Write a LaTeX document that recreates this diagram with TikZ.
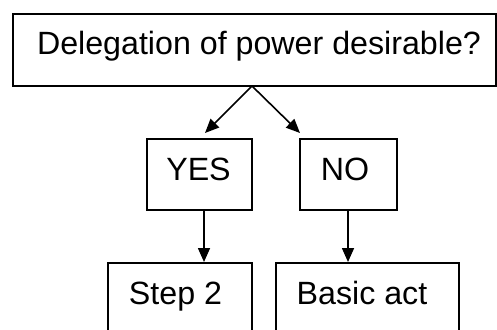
\documentclass[tikz,border=0pt]{standalone}
\usepackage{fontspec}
\setmainfont{Liberation Sans}
\usetikzlibrary{arrows.meta}
\begin{document}
\begin{tikzpicture}[x=1pt,y=-1pt,
  box/.style={draw=black,line width=1.6pt,rectangle,inner sep=0pt,fill=none},
  lbl/.style={inner sep=0pt,anchor=base,font=\fontsize{32.2}{38}\selectfont},
  conn/.style={draw=black,line width=1.6pt,-{Triangle[length=14pt,width=12pt]}}]
\useasboundingbox (0,0) rectangle (497,329);
\clip (0,0) rectangle (497,329);
% boxes
\node[box,minimum width=483pt,minimum height=72pt] (q) at (254.5,50) {};
\node[box,minimum width=105pt,minimum height=71pt] (yes) at (199.5,174.5) {};
\node[box,minimum width=97pt,minimum height=71pt] (no) at (348.5,174.5) {};
\node[box,minimum width=144pt,minimum height=100pt] (s2) at (180,313) {};
\node[box,minimum width=183pt,minimum height=100pt] (ba) at (367.5,313) {};
% texts
\node[lbl] (tq) at (259,55) {Delegation of power desirable?};
\node[lbl] (tyes) at (198.5,180) {YES};
\node[lbl] (tno) at (345,180) {NO};
\node[lbl] (ts2) at (175.5,304) {Step 2};
\node[lbl] (tba) at (362,304) {Basic act};
% connectors
\coordinate (apex) at (252,86);
\coordinate (yesin) at (205,133);
\coordinate (noin) at (300,133);
\draw[conn] (apex) -- (yesin);
\draw[conn] (apex) -- (noin);
\draw[conn] (yes.south -| 204,0) -- (204,262);
\draw[conn] (no.south -| 348,0) -- (348,262);
\end{tikzpicture}
\end{document}
